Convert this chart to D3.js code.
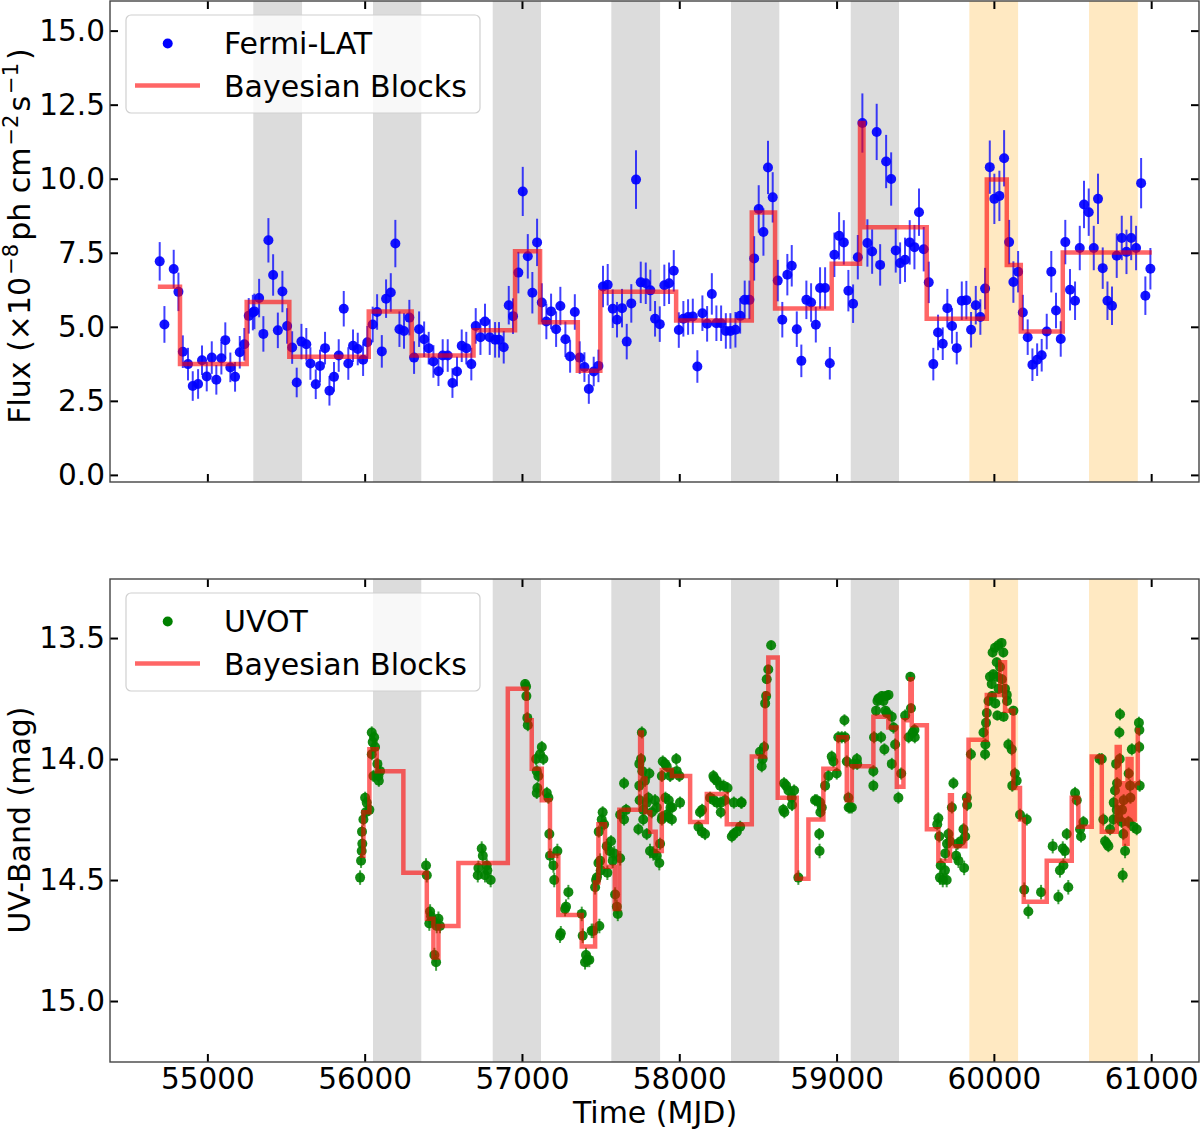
<!DOCTYPE html>
<html><head><meta charset="utf-8">
<script src="https://cdn.jsdelivr.net/npm/d3@7"></script>
<style>body{margin:0;background:#fff}svg{display:block}text{font-family:"DejaVu Sans",sans-serif}</style>
</head><body><svg id="c" width="1200" height="1129"></svg>
<script>
const xTicks=[55000,56000,57000,58000,59000,60000,61000];
const fluxTicks=[0,2.5,5,7.5,10,12.5,15];
const magTicks=[13.5,14,14.5,15];
const grayBands=[[55292,55602],[56053,56360],[56814,57121],[57568,57878],[58329,58636],[59090,59397]];
const orangeBands=[[59844,60154],[60605,60915]];
// [MJD, flux (1e-8 ph cm^-2 s^-1), error]
const fermiLAT=[
[54697,7.21,0.65],[54727,5.08,0.62],[54786,6.95,0.65],[54816,6.18,0.65],[54844,4.16,0.55],[54877,3.74,0.55],[54907,3.00,0.5],[54941,3.07,0.5],[54966,3.87,0.5],[54996,3.32,0.5],
[55028,3.96,0.55],[55057,3.21,0.5],[55089,3.94,0.55],[55114,4.55,0.6],[55146,3.63,0.5],[55176,3.31,0.5],[55206,4.14,0.55],[55235,4.41,0.55],[55263,5.37,0.6],[55289,5.48,0.6],
[55299,5.52,0.6],[55329,5.97,0.65],[55356,4.76,0.6],[55388,7.92,0.75],[55418,6.75,0.7],[55448,4.88,0.6],[55477,6.19,0.7],[55507,5.03,0.6],[55539,4.30,0.55],[55568,3.12,0.5],
[55598,4.50,0.6],[55629,4.41,0.55],[55655,3.76,0.55],[55689,3.06,0.5],[55716,3.68,0.55],[55748,4.28,0.55],[55776,2.84,0.5],[55805,3.31,0.5],[55835,4.03,0.55],[55867,5.61,0.6],
[55896,3.76,0.55],[55926,4.36,0.55],[55956,4.25,0.55],[55990,3.89,0.55],[56017,4.48,0.55],[56051,5.08,0.6],[56079,5.50,0.6],[56109,4.17,0.55],[56136,5.95,0.65],[56166,6.16,0.65],
[56195,7.81,0.8],[56221,4.92,0.6],[56250,4.86,0.6],[56284,5.31,0.6],[56314,3.96,0.55],[56346,4.92,0.6],[56378,4.58,0.6],[56407,4.28,0.55],[56437,3.83,0.55],[56469,3.50,0.5],
[56496,4.03,0.55],[56528,4.03,0.55],[56558,3.10,0.5],[56587,3.49,0.5],[56617,4.36,0.55],[56646,4.28,0.55],[56678,3.74,0.55],[56706,5.03,0.6],[56736,4.65,0.6],[56765,5.18,0.6],
[56795,4.65,0.6],[56829,4.56,0.6],[56854,4.56,0.6],[56884,4.31,0.55],[56916,5.73,0.65],[56943,5.36,0.6],[56977,6.83,0.7],[57005,9.57,0.83],[57037,7.38,0.75],[57066,6.15,0.7],
[57096,7.85,0.8],[57126,5.82,0.65],[57155,5.18,0.6],[57185,5.52,0.6],[57217,4.92,0.6],[57244,5.70,0.65],[57276,4.58,0.6],[57306,4.00,0.55],[57336,5.50,0.6],[57367,3.96,0.55],
[57397,3.64,0.5],[57425,2.90,0.5],[57456,3.49,0.5],[57486,3.68,0.55],[57515,6.36,0.7],[57545,6.42,0.7],[57577,5.61,0.65],[57604,5.24,0.6],[57636,5.63,0.65],[57666,4.50,0.6],
[57695,5.79,0.65],[57725,9.97,0.99],[57755,6.50,0.7],[57787,6.47,0.7],[57816,6.23,0.7],[57846,5.27,0.6],[57876,5.09,0.6],[57905,6.40,0.7],[57935,6.47,0.7],[57965,6.89,0.7],
[57997,4.89,0.6],[58026,5.27,0.6],[58056,5.33,0.6],[58086,5.35,0.6],[58115,3.66,0.55],[58147,5.46,0.6],[58177,5.10,0.6],[58207,6.11,0.7],[58236,5.12,0.6],[58266,5.12,0.6],
[58296,4.86,0.6],[58325,4.86,0.6],[58357,4.90,0.6],[58387,5.37,0.6],[58416,5.91,0.65],[58446,5.91,0.65],[58476,7.31,0.75],[58505,8.98,0.8],[58535,8.20,0.8],[58564,10.38,0.9],
[58594,9.37,0.85],[58626,6.56,0.7],[58655,5.24,0.6],[58687,6.76,0.7],[58715,7.06,0.7],[58747,4.92,0.6],[58776,3.85,0.55],[58808,5.91,0.65],[58838,5.82,0.65],[58868,5.07,0.6],
[58895,6.31,0.7],[58927,6.31,0.7],[58957,3.77,0.55],[58986,7.43,0.75],[59016,8.07,0.8],[59046,7.85,0.75],[59075,6.22,0.7],[59105,5.78,0.65],[59135,7.35,0.75],[59164,11.88,1.0],
[59196,7.83,0.8],[59226,7.54,0.75],[59255,11.58,0.95],[59277,7.09,0.7],[59315,10.58,0.9],[59347,9.99,0.9],[59376,7.58,0.75],[59404,7.15,0.7],[59435,7.26,0.75],[59465,7.85,0.75],
[59495,7.69,0.75],[59524,8.87,0.8],[59554,7.62,0.75],[59586,6.50,0.7],[59615,3.74,0.55],[59645,4.81,0.6],[59675,4.43,0.55],[59704,5.63,0.65],[59734,5.03,0.6],[59764,4.28,0.55],
[59796,5.88,0.65],[59825,5.90,0.65],[59855,4.90,0.6],[59885,5.73,0.65],[59914,5.33,0.6],[59944,6.29,0.7],[59974,10.39,0.9],[60003,9.32,0.85],[60035,9.42,0.85],[60065,10.69,0.95],
[60097,7.86,0.75],[60124,6.51,0.7],[60154,6.86,0.7],[60184,5.48,0.6],[60215,4.65,0.6],[60245,3.72,0.55],[60275,3.89,0.55],[60304,4.04,0.55],[60336,4.84,0.6],[60365,6.86,0.7],
[60395,5.55,0.6],[60425,4.59,0.6],[60454,7.86,0.75],[60484,6.25,0.7],[60516,5.88,0.65],[60546,7.66,0.75],[60573,9.13,0.8],[60603,8.87,0.8],[60635,7.66,0.75],[60662,9.32,0.85],
[60692,6.98,0.7],[60722,5.88,0.65],[60751,5.71,0.65],[60781,7.40,0.75],[60813,8.00,0.75],[60843,7.53,0.75],[60873,8.00,0.75],[60904,7.66,0.75],[60936,9.85,0.85],[60963,6.05,0.65],
[60995,6.96,0.7]];
// [start, end, flux]
const fermiBlocks=[
[54685,54826,6.35],[54826,55250,3.74],[55250,55521,5.84],[55521,56026,3.99],[56026,56299,5.52],[56299,56692,4.03],
[56692,56956,4.88],[56956,57115,7.55],[57115,57355,5.15],[57355,57498,3.52],[57498,57980,6.18],[57980,58461,5.21],
[58461,58609,8.86],[58609,58969,5.62],[58969,59149,7.13],[59149,59171,11.88],[59171,59573,8.36],[59573,59955,5.27],
[59955,60082,9.97],[60082,60171,7.09],[60171,60438,4.84],[60438,61004,7.51]];
// [MJD, UV mag, error]
const uvot=[
[55971,14.49,0.03],[55977,14.42,0.03],[55981,14.38,0.025],[55985,14.35,0.025],[55983,14.30,0.025],[55992,14.25,0.025],[56003,14.16,0.025],[56007,14.22,0.025],[56013,14.18,0.025],[56030,14.21,0.025],
[56045,13.89,0.025],[56045,13.98,0.025],[56051,13.93,0.025],[56056,14.07,0.025],[56060,13.91,0.025],[56066,13.95,0.025],[56081,14.02,0.025],[56087,14.07,0.025],[56090,14.09,0.025],[56098,14.05,0.025],
[56390,14.44,0.03],[56395,14.48,0.03],[56411,14.68,0.03],[56416,14.63,0.03],[56422,14.65,0.03],[56437,14.67,0.03],[56443,14.81,0.03],[56454,14.84,0.035],[56458,14.69,0.03],[56469,14.66,0.03],[56479,14.69,0.03],
[56719,14.48,0.03],[56723,14.45,0.03],[56744,14.37,0.03],[56751,14.40,0.03],[56765,14.48,0.03],[56776,14.44,0.03],[56780,14.46,0.03],[56801,14.50,0.03],
[57020,13.69,0.02],[57026,13.70,0.02],[57028,13.74,0.02],[57034,13.83,0.025],[57037,13.86,0.025],[57090,14.00,0.025],[57094,14.05,0.025],[57094,14.14,0.025],[57098,14.12,0.025],[57104,14.07,0.025],
[57115,13.98,0.025],[57126,13.95,0.025],[57136,14.00,0.025],[57158,14.14,0.025],[57168,14.16,0.025],[57174,14.31,0.025],[57178,14.40,0.03],[57200,14.44,0.03],[57205,14.50,0.03],[57225,14.38,0.03],
[57242,14.73,0.03],[57247,14.72,0.03],[57274,14.62,0.03],[57280,14.61,0.03],[57295,14.55,0.03],[57380,14.64,0.03],[57386,14.73,0.03],[57401,14.84,0.03],[57407,14.81,0.03],[57416,14.83,0.03],
[57428,14.83,0.03],[57443,14.71,0.03],[57454,14.71,0.03],[57465,14.53,0.03],[57471,14.50,0.03],[57476,14.49,0.03],[57486,14.43,0.03],[57488,14.30,0.025],[57492,14.69,0.03],[57497,14.42,0.03],
[57501,14.46,0.03],[57507,14.25,0.025],[57513,14.22,0.025],[57522,14.27,0.025],[57539,14.36,0.03],[57543,14.47,0.03],[57556,14.38,0.03],[57566,14.34,0.025],[57577,14.42,0.03],[57586,14.39,0.03],
[57592,14.56,0.03],[57603,14.61,0.03],[57609,14.64,0.03],[57624,14.41,0.03],[57624,14.23,0.025],[57649,14.25,0.025],[57649,14.10,0.025],[57662,14.21,0.025],
[57740,14.29,0.025],[57746,14.02,0.025],[57746,14.11,0.025],[57748,14.17,0.025],[57757,14.00,0.025],[57762,13.89,0.025],[57765,14.05,0.025],[57771,14.25,0.025],[57771,14.21,0.025],[57782,14.09,0.025],
[57793,14.31,0.025],[57793,14.18,0.025],[57803,14.16,0.025],[57810,14.06,0.025],[57814,14.38,0.03],[57825,14.22,0.025],[57835,14.39,0.03],[57846,14.17,0.025],[57857,14.40,0.03],[57857,14.20,0.025],
[57873,14.43,0.03],[57878,14.35,0.025],[57889,14.25,0.025],[57889,14.07,0.025],[57891,14.24,0.025],[57895,14.01,0.025],[57910,14.02,0.025],[57912,14.16,0.025],[57920,14.03,0.025],[57920,14.23,0.025],
[57931,14.24,0.025],[57933,14.17,0.025],[57942,14.07,0.025],[57944,14.20,0.025],[57953,14.25,0.025],[57953,14.06,0.025],[57955,14.20,0.025],[57981,14.00,0.025],[57984,14.05,0.025],[58001,14.07,0.025],[58005,14.18,0.025],
[58122,14.28,0.025],[58132,14.22,0.025],[58143,14.30,0.025],[58145,14.21,0.025],[58164,14.31,0.025],[58196,14.16,0.025],[58217,14.07,0.025],[58219,14.17,0.025],[58223,14.08,0.025],[58238,14.09,0.025],
[58240,14.18,0.025],[58260,14.11,0.025],[58262,14.18,0.025],[58264,14.22,0.025],[58281,14.11,0.025],[58291,14.17,0.025],[58307,14.12,0.025],[58334,14.32,0.025],[58345,14.31,0.025],[58347,14.18,0.025],
[58366,14.30,0.025],[58387,14.28,0.025],[58393,14.18,0.025],[58397,14.18,0.025],
[58513,13.97,0.025],[58524,14.03,0.025],[58530,14.00,0.025],[58539,13.95,0.025],[58546,13.77,0.02],[58552,13.74,0.02],[58556,13.67,0.02],[58566,13.63,0.02],[58584,13.53,0.02],
[58661,14.21,0.025],[58666,14.10,0.025],[58668,14.22,0.025],[58679,14.11,0.025],[58694,14.13,0.025],[58715,14.16,0.025],[58717,14.19,0.025],[58730,14.13,0.025],[58757,14.49,0.03],
[58863,14.17,0.025],[58874,14.17,0.025],[58890,14.31,0.025],[58892,14.38,0.03],[58895,14.18,0.025],[58897,14.22,0.025],[58906,14.20,0.025],[58927,14.11,0.025],[58948,14.07,0.025],[58969,13.99,0.025],
[58980,14.01,0.025],[59001,14.06,0.025],[59011,13.91,0.025],[59033,13.91,0.025],[59050,13.84,0.025],[59054,13.91,0.025],[59065,14.01,0.025],[59075,14.16,0.025],[59077,14.20,0.025],[59086,14.20,0.025],
[59097,14.20,0.025],[59107,14.02,0.025],[59129,14.00,0.025],[59131,14.02,0.025],
[59234,14.05,0.025],[59234,14.11,0.025],[59238,13.91,0.025],[59251,13.80,0.02],[59260,13.76,0.02],[59266,13.75,0.02],[59272,13.75,0.02],[59283,13.91,0.025],[59288,13.74,0.02],[59298,13.76,0.02],
[59304,13.96,0.025],[59311,13.80,0.02],[59315,13.74,0.02],[59319,13.81,0.02],[59330,13.735,0.02],[59351,13.825,0.025],[59351,14.02,0.025],[59362,13.87,0.025],[59372,13.94,0.025],[59393,14.16,0.025],
[59411,14.06,0.025],[59436,13.82,0.025],[59458,13.91,0.025],[59469,13.66,0.02],[59473,13.79,0.02],[59485,13.89,0.025],[59495,13.88,0.025],[59497,13.91,0.025],
[59640,14.27,0.025],[59647,14.245,0.025],[59653,14.32,0.025],[59657,14.49,0.03],[59662,14.44,0.03],[59675,14.50,0.03],[59689,14.46,0.03],[59691,14.39,0.03],[59700,14.50,0.03],[59702,14.35,0.025],
[59711,14.31,0.025],[59721,14.34,0.025],[59733,14.20,0.025],[59743,14.10,0.025],[59760,14.40,0.03],[59769,14.35,0.025],[59775,14.42,0.03],[59790,14.34,0.025],[59807,14.29,0.025],[59811,14.45,0.03],
[59818,14.32,0.025],[59828,14.16,0.025],[59830,14.19,0.025],[59854,13.98,0.025],
[59934,13.89,0.025],[59944,13.98,0.025],[59946,13.94,0.025],[59950,13.85,0.025],[59955,13.81,0.02],[59966,13.76,0.02],[59975,13.66,0.02],[59986,13.69,0.02],[59988,13.74,0.02],[59992,13.56,0.02],
[59996,13.65,0.02],[60007,13.54,0.02],[60009,13.77,0.02],[60018,13.60,0.02],[60020,13.66,0.02],[60022,13.82,0.02],[60028,13.53,0.02],[60030,13.71,0.02],[60039,13.62,0.02],[60049,13.52,0.02],
[60051,13.67,0.02],[60060,13.56,0.02],[60062,13.825,0.02],[60071,13.71,0.02],[60082,13.735,0.02],[60084,13.76,0.02],[60092,13.94,0.025],[60113,13.96,0.025],[60117,14.11,0.025],[60124,13.80,0.02],
[60134,14.06,0.025],[60145,14.09,0.025],[60166,14.23,0.025],[60193,14.54,0.03],[60209,14.25,0.025],[60219,14.63,0.03],
[60300,14.55,0.03],[60374,14.36,0.03],[60410,14.57,0.03],[60420,14.46,0.03],[60438,14.37,0.03],[60442,14.44,0.03],[60452,14.38,0.03],[60463,14.31,0.025],[60473,14.53,0.03],
[60516,14.14,0.025],[60527,14.17,0.025],[60548,14.29,0.025],[60554,14.32,0.025],[60569,14.26,0.025],[60671,14.00,0.025],[60686,14.00,0.025],[60696,14.25,0.025],[60707,14.34,0.025],[60718,14.35,0.025],
[60728,14.36,0.025],[60739,14.29,0.025],[60760,14.25,0.025],[60762,14.18,0.025],[60770,14.13,0.025],[60777,14.02,0.025],[60781,14.21,0.025],[60783,14.10,0.025],[60792,14.245,0.025],[60798,13.89,0.025],
[60800,14.00,0.025],[60802,13.815,0.025],[60813,14.26,0.025],[60815,14.21,0.025],[60819,14.48,0.03],[60823,14.31,0.025],[60825,14.17,0.025],[60834,14.38,0.03],[60855,14.26,0.025],[60857,14.06,0.025],
[60866,14.11,0.025],[60868,14.16,0.025],[60877,13.96,0.025],[60887,14.28,0.025],[60908,14.29,0.025],[60922,13.85,0.025],[60924,13.95,0.025],[60925,13.88,0.025],[60927,14.11,0.025]];
// [start, end, mag]
const uvotBlocks=[
[55970,55992,14.40],[55992,56030,14.22],[56030,56077,13.96],[56077,56246,14.05],[56246,56395,14.47],[56395,56437,14.66],
[56437,56469,14.82],[56469,56596,14.69],[56596,56910,14.43],[56910,57030,13.71],[57030,57062,13.84],[57062,57126,14.04],
[57126,57178,14.17],[57178,57231,14.40],[57231,57380,14.645],[57380,57465,14.775],[57465,57486,14.51],[57486,57528,14.27],
[57528,57590,14.445],[57590,57619,14.62],[57619,57751,14.21],[57751,57762,13.89],[57762,57785,14.08],[57785,57815,14.22],
[57815,57850,14.30],[57850,57889,14.38],[57889,57953,14.045],[57953,58069,14.07],[58069,58175,14.26],[58175,58302,14.145],
[58302,58461,14.27],[58461,58546,13.99],[58546,58566,13.73],[58566,58626,13.58],[58626,58747,14.16],[58747,58821,14.495],
[58821,58916,14.25],[58916,59011,14.04],[59011,59065,13.91],[59065,59097,14.17],[59097,59234,14.03],[59234,59329,13.825],
[59329,59383,13.87],[59383,59425,14.115],[59425,59469,13.84],[59469,59478,13.67],[59478,59574,13.86],[59574,59647,14.29],
[59647,59721,14.42],[59721,59733,14.15],[59733,59818,14.36],[59818,59839,14.17],[59839,59955,13.92],[59955,60040,13.735],
[60040,60071,13.60],[60071,60124,13.80],[60124,60166,14.12],[60166,60190,14.25],[60190,60336,14.59],[60336,60495,14.42],
[60495,60537,14.16],[60537,60622,14.28],[60622,60686,13.99],[60686,60781,14.30],[60781,60800,13.95],[60800,60815,14.25],
[60815,60830,14.10],[60830,60850,14.35],[60850,60875,14.00],[60875,60895,14.25],[60895,60915,14.10],[60915,60930,13.88]];

const svg=d3.select("#c");
const L=110,R=1199;
const x=d3.scaleLinear().domain([54381,61304]).range([L,R]);
const panels=[
 {top:1,bottom:482,y:d3.scaleLinear().domain([-0.24,16.0]).range([482,1]),ticks:fluxTicks,fmt:d3.format(".1f"),
  data:fermiLAT,blocks:fermiBlocks,bands:grayBands,color:"#0000ff",name:"Fermi-LAT",labels:false},
 {top:579,bottom:1062,y:d3.scaleLinear().domain([13.256,15.252]).range([579,1062]),ticks:magTicks,fmt:d3.format(".1f"),
  data:uvot,blocks:uvotBlocks,bands:grayBands.slice(1),color:"#008000",name:"UVOT",labels:true}
];
panels.forEach((p,i)=>{
  const g=svg.append("g");
  const cid="clip"+i;
  svg.append("clipPath").attr("id",cid).append("rect").attr("x",L).attr("y",p.top).attr("width",R-L).attr("height",p.bottom-p.top);
  const pg=g.append("g").attr("clip-path",`url(#${cid})`);
  pg.selectAll(".gb").data(p.bands).join("rect").attr("x",d=>x(d[0])).attr("width",d=>x(d[1])-x(d[0]))
    .attr("y",p.top).attr("height",p.bottom-p.top).attr("fill","#dcdcdc");
  pg.selectAll(".ob").data(orangeBands).join("rect").attr("x",d=>x(d[0])).attr("width",d=>x(d[1])-x(d[0]))
    .attr("y",p.top).attr("height",p.bottom-p.top).attr("fill","#ffe9c2");
  pg.append("g").selectAll("line").data(p.data).join("line")
    .attr("x1",d=>x(d[0])).attr("x2",d=>x(d[0])).attr("y1",d=>p.y(d[1]-d[2])).attr("y2",d=>p.y(d[1]+d[2]))
    .attr("stroke",p.color).attr("stroke-width",2).attr("stroke-opacity",0.75);
  pg.append("g").selectAll("circle").data(p.data).join("circle")
    .attr("cx",d=>x(d[0])).attr("cy",d=>p.y(d[1])).attr("r",5).attr("fill",p.color).attr("fill-opacity",0.92);
  const pts=[];p.blocks.forEach(b=>{pts.push([b[0],b[2]]);pts.push([b[1],b[2]]);});
  pg.append("path").attr("d",d3.line().x(d=>x(d[0])).y(d=>p.y(d[1]))(pts))
    .attr("fill","none").attr("stroke","#ff0000").attr("stroke-opacity",0.6).attr("stroke-width",4.5).attr("stroke-linejoin","miter");
  const ax=(gen,tr)=>{const a=g.append("g").attr("transform",tr).call(gen);a.select(".domain").remove();
    a.selectAll(".tick line").attr("stroke","#000").attr("stroke-width",2);
    a.selectAll("text").attr("font-size",29.5).attr("fill","#000").attr("font-family","DejaVu Sans");return a;};
  ax(d3.axisBottom(x).tickValues(xTicks).tickSize(-8).tickPadding(6).tickFormat(p.labels?d3.format("d"):""),`translate(0,${p.bottom})`);
  ax(d3.axisTop(x).tickValues(xTicks).tickSize(-8).tickFormat(""),`translate(0,${p.top})`);
  ax(d3.axisLeft(p.y).tickValues(p.ticks).tickSize(-8).tickPadding(5).tickFormat(p.fmt),`translate(${L},0)`);
  ax(d3.axisRight(p.y).tickValues(p.ticks).tickSize(-8).tickFormat(""),`translate(${R},0)`);
  g.append("rect").attr("x",L).attr("y",p.top).attr("width",R-L).attr("height",p.bottom-p.top)
    .attr("fill","none").attr("stroke","#444").attr("stroke-width",1.4);
  const lg=g.append("g").attr("transform",`translate(126,${p.top+14})`);
  lg.append("rect").attr("width",354).attr("height",98).attr("rx",5).attr("fill","#fff").attr("fill-opacity",0.8)
    .attr("stroke","#d0d0d0").attr("stroke-width",1.2);
  lg.append("circle").attr("cx",41.7).attr("cy",28.5).attr("r",5).attr("fill",p.color);
  lg.append("text").attr("x",98).attr("y",38.5).attr("font-size",30).text(p.name);
  lg.append("line").attr("x1",9).attr("x2",74).attr("y1",70.5).attr("y2",70.5).attr("stroke","#ff0000").attr("stroke-opacity",0.6).attr("stroke-width",4.5);
  lg.append("text").attr("x",98).attr("y",81.5).attr("font-size",30).text("Bayesian Blocks");
});
svg.append("text").attr("x",655).attr("y",1123).attr("text-anchor","middle").attr("font-size",30).text("Time (MJD)");
const yl=svg.append("text").attr("transform","translate(30,236) rotate(-90)").attr("text-anchor","middle").attr("font-size",30);
yl.append("tspan").text("Flux (\u00d710");
yl.append("tspan").attr("dy",-12).attr("dx",2).attr("font-size",21).text("\u22128");
yl.append("tspan").attr("dy",12).attr("dx",3).text("ph cm");
yl.append("tspan").attr("dy",-12).attr("dx",2).attr("font-size",21).text("\u22122");
yl.append("tspan").attr("dy",12).attr("dx",3).text("s");
yl.append("tspan").attr("dy",-12).attr("dx",2).attr("font-size",21).text("\u22121");
yl.append("tspan").attr("dy",12).attr("dx",3).text(")");
svg.append("text").attr("transform","translate(30,820) rotate(-90)").attr("text-anchor","middle").attr("font-size",30).text("UV-Band (mag)");
</script></body></html>
